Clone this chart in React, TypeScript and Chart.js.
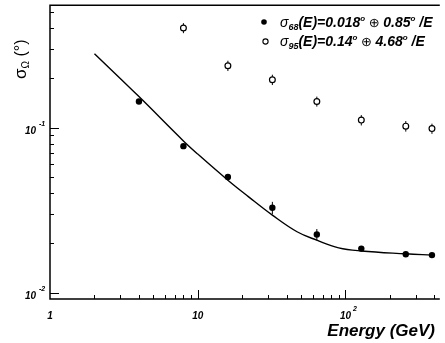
import React, { useEffect, useRef } from 'react';
import { Chart, registerables } from 'chart.js';
Chart.register(...registerables);

// Fitted curve
const fitEnergy = [2, 4, 8, 10, 16, 22, 32, 47, 64, 90, 128, 256, 385];
const fitSigma = [0.28, 0.154, 0.083, 0.0691, 0.048, 0.0382, 0.0295, 0.0234, 0.0208, 0.0187, 0.0179, 0.0172, 0.0169];
// sigma68 measured points (filled)
const energies68 = [4, 8, 16, 32, 64, 128, 256, 385];
const sigma68 = [0.144, 0.0772, 0.0502, 0.0327, 0.0225, 0.0185, 0.0171, 0.0169];
const sigma68Err = [0.003, 0.002, 0.0015, 0.0028, 0.0018, 0.0004, 0.0003, 0.0003];
// sigma95 measured points (open)
const energies95 = [8, 16, 32, 64, 128, 256, 385];
const sigma95 = [0.401, 0.237, 0.195, 0.144, 0.111, 0.102, 0.0986];
const sigma95Err = [0.028, 0.017, 0.014, 0.01, 0.008, 0.0075, 0.007];
// axis ticks
const xMajorTicks = [1, 10, 100];
const xMajorLabels = ['1', '10', '10'];
const xMajorSup = ['', '', '2'];
const xMinorTicks = [2, 3, 4, 5, 6, 7, 8, 9, 20, 30, 40, 50, 60, 70, 80, 90, 200, 300, 400];
const yMajorTicks = [0.01, 0.1];
const yMajorSup = ['-2', '-1'];
const yMinorTicks = [0.02, 0.03, 0.04, 0.05, 0.06, 0.07, 0.08, 0.09, 0.2, 0.3, 0.4, 0.5];
const xTitle = 'Energy (GeV)';

const FAM = '"Liberation Sans", "DejaVu Sans", sans-serif';

type Part = [string, string, number];
function drawRuns(ctx: CanvasRenderingContext2D, x: number, y: number, parts: Part[]) {
  for (const [t, f, dy] of parts) {
    ctx.font = f;
    ctx.fillText(t, x, y + dy);
    x += ctx.measureText(t).width;
  }
}

const errorBars = {
  id: 'errorBars',
  beforeDatasetsDraw(chart: any) {
    const ctx = chart.ctx;
    const xs = chart.scales.x, ys = chart.scales.y;
    ctx.save();
    ctx.strokeStyle = '#000';
    ctx.lineWidth = 1;
    const draw = (ex: number[], ey: number[], ee: number[]) => {
      ex.forEach((e, i) => {
        const px = xs.getPixelForValue(e);
        ctx.beginPath();
        ctx.moveTo(px, ys.getPixelForValue(ey[i] + ee[i]));
        ctx.lineTo(px, ys.getPixelForValue(ey[i] - ee[i]));
        ctx.stroke();
      });
    };
    draw(energies68, sigma68, sigma68Err);
    draw(energies95, sigma95, sigma95Err);
    ctx.restore();
  },
};

const decorations = {
  id: 'decorations',
  afterDraw(chart: any) {
    const ctx: CanvasRenderingContext2D = chart.ctx;
    const xs = chart.scales.x, ys = chart.scales.y;
    const ca = chart.chartArea;
    ctx.save();
    ctx.strokeStyle = '#000';
    ctx.fillStyle = '#000';
    ctx.lineWidth = 1.5;
    ctx.beginPath();
    ctx.moveTo(ca.right, ca.top);
    ctx.lineTo(ca.left, ca.top);
    ctx.lineTo(ca.left, ca.bottom);
    ctx.lineTo(ca.right, ca.bottom);
    ctx.stroke();
    ctx.lineWidth = 1;
    // x ticks (inward)
    xMajorTicks.forEach((v) => {
      if (v === 1) return;
      const p = Math.round(xs.getPixelForValue(v)) + 0.5;
      ctx.beginPath(); ctx.moveTo(p, ca.bottom); ctx.lineTo(p, ca.bottom - 9); ctx.stroke();
    });
    xMinorTicks.forEach((v) => {
      const p = Math.round(xs.getPixelForValue(v)) + 0.5;
      ctx.beginPath(); ctx.moveTo(p, ca.bottom); ctx.lineTo(p, ca.bottom - 4); ctx.stroke();
    });
    yMajorTicks.forEach((v) => {
      const p = Math.round(ys.getPixelForValue(v)) + 0.5;
      ctx.beginPath(); ctx.moveTo(ca.left, p); ctx.lineTo(ca.left + 9, p); ctx.stroke();
    });
    yMinorTicks.forEach((v) => {
      const p = Math.round(ys.getPixelForValue(v)) + 0.5;
      ctx.beginPath(); ctx.moveTo(ca.left, p); ctx.lineTo(ca.left + 4, p); ctx.stroke();
    });
    // x tick labels
    ctx.textBaseline = 'alphabetic';
    xMajorTicks.forEach((v, i) => {
      const p = xs.getPixelForValue(v);
      ctx.font = `bold italic 10px ${FAM}`;
      ctx.textAlign = 'center';
      ctx.fillText(xMajorLabels[i], p, ca.bottom + 20);
      if (xMajorSup[i]) {
        const w = ctx.measureText(xMajorLabels[i]).width;
        ctx.font = `bold italic 7px ${FAM}`;
        ctx.textAlign = 'left';
        ctx.fillText(xMajorSup[i], p + w / 2 + 2, ca.bottom + 12);
      }
    });
    // y tick labels
    yMajorTicks.forEach((v, i) => {
      const p = ys.getPixelForValue(v);
      ctx.font = `bold italic 10px ${FAM}`;
      ctx.textAlign = 'right';
      ctx.fillText('10', 36, p + 6);
      ctx.font = `bold italic 7px ${FAM}`;
      ctx.textAlign = 'left';
      ctx.fillText(yMajorSup[i], 39, p - 1.5);
    });
    // x title
    ctx.textAlign = 'right';
    ctx.font = `bold italic 17px ${FAM}`;
    ctx.fillText(xTitle, 435, 336);
    // y title (rotated)
    ctx.save();
    ctx.translate(26, 79);
    ctx.rotate(-Math.PI / 2);
    ctx.textAlign = 'left';
    drawRuns(ctx, 0, 0, [
      ['σ', `17px ${FAM}`, 0],
      ['Ω', `10px ${FAM}`, 3],
      [' (°)', `16px ${FAM}`, 0],
    ]);
    ctx.restore();
    // legend
    ctx.textAlign = 'left';
    ctx.beginPath(); ctx.arc(264, 22, 2.8, 0, Math.PI * 2); ctx.fill();
    ctx.beginPath(); ctx.arc(265.5, 41.5, 2.6, 0, Math.PI * 2);
    ctx.fillStyle = '#fff'; ctx.fill(); ctx.lineWidth = 1.1; ctx.stroke();
    ctx.fillStyle = '#000';
    const bi = (s: number) => `bold italic ${s}px ${FAM}`;
    drawRuns(ctx, 280, 26.5, [
      ['σ', `italic 14px ${FAM}`, 0],
      ['68', bi(9), 3],
      ['(E)=0.018', bi(14), 0],
      ['o', bi(8), -6],
      [' ⊕ ', `13px ${FAM}`, 0],
      ['0.85', bi(14), 0],
      ['o', bi(8), -6],
      [' /E', bi(14), 0],
    ]);
    drawRuns(ctx, 280, 46, [
      ['σ', `italic 14px ${FAM}`, 0],
      ['95', bi(9), 3],
      ['(E)=0.14', bi(14), 0],
      ['o', bi(8), -6],
      [' ⊕ ', `13px ${FAM}`, 0],
      ['4.68', bi(14), 0],
      ['o', bi(8), -6],
      [' /E', bi(14), 0],
    ]);
    ctx.restore();
  },
};

export default function App() {
  const ref = useRef<HTMLCanvasElement>(null);
  useEffect(() => {
    document.body.style.margin = '0';
    const chart = new Chart(ref.current!, {
      type: 'scatter',
      data: {
        datasets: [
          {
            type: 'line',
            data: fitEnergy.map((x, i) => ({ x, y: fitSigma[i] })),
            borderColor: '#000',
            borderWidth: 1.4,
            pointRadius: 0,
            tension: 0.4,
            fill: false,
          } as any,
          {
            data: energies68.map((x, i) => ({ x, y: sigma68[i] })),
            pointRadius: 3.2,
            backgroundColor: '#000',
            borderColor: '#000',
            borderWidth: 0,
          },
          {
            data: energies95.map((x, i) => ({ x, y: sigma95[i] })),
            pointRadius: 2.9,
            backgroundColor: '#fff',
            borderColor: '#000',
            borderWidth: 1.2,
          },
        ],
      },
      options: {
        responsive: false,
        animation: false,
        layout: { padding: { left: 50, top: 3, right: 0, bottom: 44 } },
        plugins: { legend: { display: false }, tooltip: { enabled: false } },
        scales: {
          x: { type: 'logarithmic', min: 1, max: 435, display: false },
          y: { type: 'logarithmic', min: 0.00916, max: 0.551, display: false },
        },
      },
      plugins: [errorBars, decorations],
    });
    return () => chart.destroy();
  }, []);
  return (
    <div style={{ width: 445, height: 343, background: '#fff' }}>
      <canvas ref={ref} width={445} height={343} />
    </div>
  );
}
